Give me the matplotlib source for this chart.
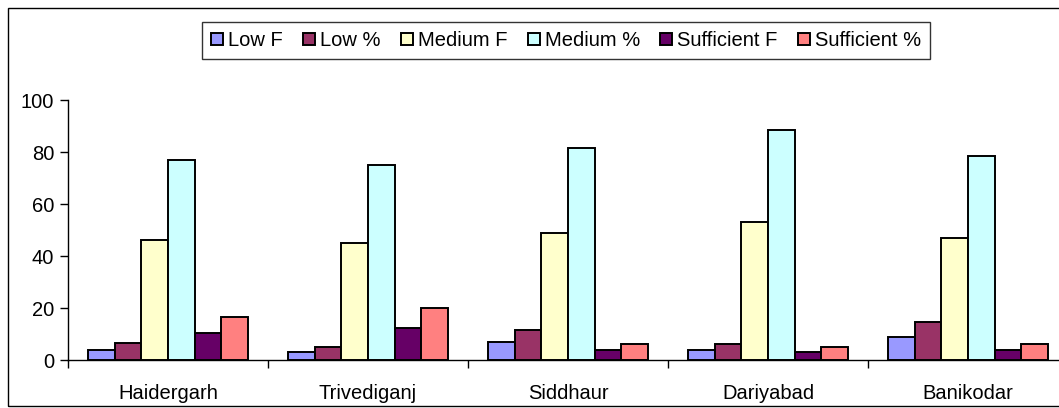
import matplotlib
matplotlib.use("Agg")
import matplotlib.pyplot as plt
from matplotlib.patches import Rectangle
import numpy as np

plt.rcParams['font.family'] = ['Liberation Sans', 'DejaVu Sans']

categories = ["Haidergarh", "Trivediganj", "Siddhaur", "Dariyabad", "Banikodar"]
series_names = ["Low F", "Low %", "Medium F", "Medium %", "Sufficient F", "Sufficient %"]
low_f = [3.8, 3.1, 6.9, 3.8, 9.0]
low_pct = [6.4, 5.1, 11.5, 6.3, 14.7]
medium_f = [46.2, 44.9, 48.7, 53.2, 47.1]
medium_pct = [76.9, 75.0, 81.7, 88.6, 78.3]
sufficient_f = [10.3, 12.2, 3.8, 3.1, 3.8]
sufficient_pct = [16.7, 19.9, 6.3, 5.1, 6.3]
colors = ["#9999FF", "#993366", "#FFFFCC", "#CCFFFF", "#660066", "#FF8080"]

series = [low_f, low_pct, medium_f, medium_pct, sufficient_f, sufficient_pct]

FS = 14.5
W, H = 1059, 408
fig = plt.figure(figsize=(W / 100, H / 100), dpi=100)
fig.patch.set_facecolor("white")

# outer chart frame (clipped on the right as in the reference)
fig.patches.append(Rectangle((8 / W, 2 / H), 1.2, (406 - 8) / H, transform=fig.transFigure,
                             fill=False, edgecolor="black", linewidth=1.0))

ax_left, ax_right = 68 / W, 1068 / W
ax_bottom, ax_top = (H - 360) / H, (H - 100) / H
ax = fig.add_axes([ax_left, ax_bottom, ax_right - ax_left, ax_top - ax_bottom])

n = len(series)
bar_w = 1.0 / 7.5
x = np.arange(len(categories))
for i, (vals, name, c) in enumerate(zip(series, series_names, colors)):
    offs = (i - (n - 1) / 2) * bar_w
    ax.bar(x + offs, vals, width=bar_w, color=c, edgecolor="black", linewidth=1.4,
           label=name, zorder=3)

ax.set_xlim(-0.5, len(categories) - 0.5)
ax.set_ylim(0, 100)
ax.set_yticks([0, 20, 40, 60, 80, 100])
ax.tick_params(axis='y', direction='out', length=6, width=1, labelsize=FS, pad=4)
ax.set_xticks(x)
ax.set_xticklabels(categories)
ax.set_xticks(np.arange(-0.5, len(categories) + 0.5, 1), minor=True)
ax.tick_params(axis='x', which='major', length=0, labelsize=FS, pad=17)
ax.tick_params(axis='x', which='minor', direction='out', length=6, width=1)
for s in ['top', 'right']:
    ax.spines[s].set_visible(False)
for s in ['left', 'bottom']:
    ax.spines[s].set_linewidth(1.0)
ax.patch.set_alpha(0)

handles, labels = ax.get_legend_handles_labels()
leg = fig.legend(handles, labels, loc='center', bbox_to_anchor=(566 / W, (H - 40.5) / H),
                 ncol=6, fontsize=FS, frameon=True, fancybox=False, shadow=False,
                 handlelength=0.6, handleheight=0.6, handletextpad=0.25,
                 columnspacing=1.0, borderpad=0.47, borderaxespad=0)
leg.get_frame().set_edgecolor("black")
leg.get_frame().set_linewidth(1.0)

fig.savefig("out.png", dpi=100)
